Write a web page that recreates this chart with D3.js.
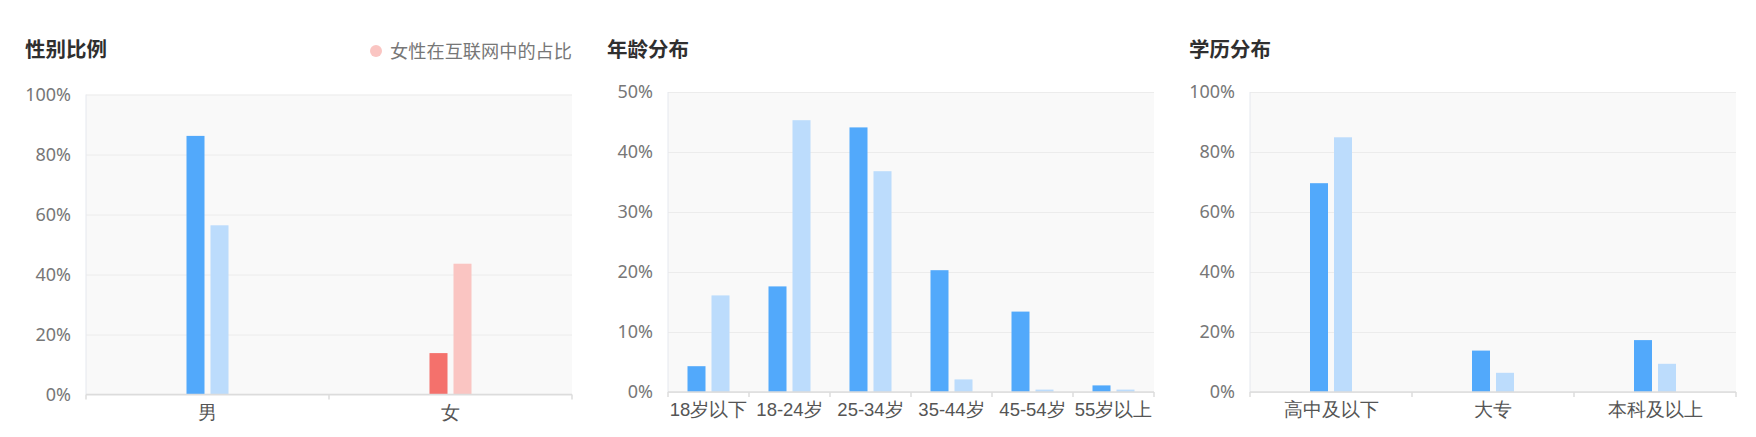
<!DOCTYPE html>
<html>
<head>
<meta charset="utf-8">
<script src="https://cdn.jsdelivr.net/npm/d3@7"></script>
<style>
    body { margin: 0; background: #fff; }
    svg { display: block; font-family: "Noto Sans", "Noto Sans CJK SC", sans-serif; }
</style>
</head>
<body>
<div id="svg-container"></div>
<script>
// data (percent)
const genderCategories = ["男", "女"];
const genderProduct = [86.2, 13.8];
const genderInternet = [56.4, 43.6];
const genderTicks = [0, 20, 40, 60, 80, 100];

const ageCategories = ["18岁以下", "18-24岁", "25-34岁", "35-44岁", "45-54岁", "55岁以上"];
const ageProduct = [4.3, 17.6, 44.1, 20.3, 13.4, 1.1];
const ageInternet = [16.1, 45.3, 36.8, 2.1, 0.4, 0.4];
const ageTicks = [0, 10, 20, 30, 40, 50];

const eduCategories = ["高中及以下", "大专", "本科及以上"];
const eduProduct = [69.6, 13.8, 17.3];
const eduInternet = [84.9, 6.4, 9.4];
const eduTicks = [0, 20, 40, 60, 80, 100];

const blue = ["#52a9fb", "#bcdcfc"];
const red = ["#f4716c", "#fac5c2"];

const svg = d3.select("#svg-container")
    .append("svg")
    .attr("width", 1756)
    .attr("height", 437);

function drawPanel(opt) {
    const g = svg.append("g").attr("transform", `translate(${opt.left},0)`);
    const plotLeft = 86, plotRight = 572;
    const top = opt.top, bottom = opt.top + 300;

    // title
    g.append("text")
        .attr("x", 25)
        .attr("y", 57)
        .attr("font-size", 20.5)
        .attr("font-weight", "bold")
        .attr("fill", "#2f2f2f")
        .text(opt.title);

    const x = d3.scaleBand()
        .domain(opt.categories)
        .range([plotLeft, plotRight]);
    const xSeries = d3.scaleBand()
        .domain([0, 1])
        .range([-21, 21])
        .paddingInner(0.25);
    const y = d3.scaleLinear()
        .domain([0, d3.max(opt.ticks)])
        .range([bottom, top]);

    // plot background
    g.append("rect")
        .attr("x", plotLeft)
        .attr("y", top)
        .attr("width", plotRight - plotLeft)
        .attr("height", bottom - top)
        .attr("fill", "#f9f9f9");

    // y axis with grid lines
    const yAxis = g.append("g")
        .attr("transform", `translate(${plotLeft},0)`)
        .call(d3.axisLeft(y)
            .tickValues(opt.ticks)
            .tickSize(-(plotRight - plotLeft))
            .tickPadding(15)
            .tickFormat(d => d + "%"));
    yAxis.select(".domain").remove();
    yAxis.selectAll(".tick line").attr("stroke", "#ececec");
    yAxis.selectAll(".tick text")
        .attr("font-size", 18)
        .attr("fill", "#777")
        .attr("font-family", "Noto Sans, sans-serif");
    g.append("line")
        .attr("x1", plotLeft).attr("x2", plotLeft)
        .attr("y1", top).attr("y2", bottom)
        .attr("stroke", "#e5e8ee");

    // bars
    const rows = opt.categories.map((c, i) => ({
        cat: c,
        values: [opt.product[i], opt.internet[i]],
        colors: opt.colors ? opt.colors[i] : blue
    }));
    const groups = g.selectAll(".grp")
        .data(rows)
        .enter()
        .append("g")
        .attr("class", "grp")
        .attr("transform", d => `translate(${x(d.cat) + x.bandwidth() / 2},0)`);
    groups.selectAll("rect")
        .data(d => d.values.map((v, j) => ({ v: v, color: d.colors[j], j: j })))
        .enter()
        .append("rect")
        .attr("x", d => xSeries(d.j))
        .attr("width", xSeries.bandwidth())
        .attr("y", d => y(d.v))
        .attr("height", d => bottom - y(d.v))
        .attr("fill", d => d.color);

    // x axis
    const xAxis = g.append("g")
        .attr("transform", `translate(0,${bottom})`)
        .call(d3.axisBottom(x).tickSize(0).tickPadding(11));
    xAxis.select(".domain").remove();
    xAxis.selectAll(".tick text")
        .attr("font-size", 18.5)
        .attr("fill", "#555");
    g.append("line")
        .attr("x1", plotLeft).attr("x2", plotRight)
        .attr("y1", bottom).attr("y2", bottom)
        .attr("stroke", "#dcdcdc")
        .attr("stroke-width", 1.5);
    const bounds = opt.categories.map(c => x(c)).concat([plotRight]);
    g.selectAll(".bound")
        .data(bounds)
        .enter()
        .append("line")
        .attr("class", "bound")
        .attr("x1", d => d).attr("x2", d => d)
        .attr("y1", bottom).attr("y2", bottom + 5)
        .attr("stroke", "#dcdcdc")
        .attr("stroke-width", 1.5);

    return g;
}

const p1 = drawPanel({
    left: 0, top: 94.5, title: "性别比例",
    categories: genderCategories, product: genderProduct, internet: genderInternet,
    ticks: genderTicks, colors: [blue, red]
});

// legend for the first panel
p1.append("circle")
    .attr("cx", 376).attr("cy", 51).attr("r", 6)
    .attr("fill", red[1]);
p1.append("text")
    .attr("x", 572)
    .attr("y", 57.5)
    .attr("text-anchor", "end")
    .attr("font-size", 18.2)
    .attr("fill", "#777")
    .attr("font-family", "Noto Sans CJK SC, sans-serif")
    .text("女性在互联网中的占比");

drawPanel({
    left: 582, top: 92, title: "年龄分布",
    categories: ageCategories, product: ageProduct, internet: ageInternet,
    ticks: ageTicks
});

drawPanel({
    left: 1164, top: 92, title: "学历分布",
    categories: eduCategories, product: eduProduct, internet: eduInternet,
    ticks: eduTicks
});
</script>
</body>
</html>
